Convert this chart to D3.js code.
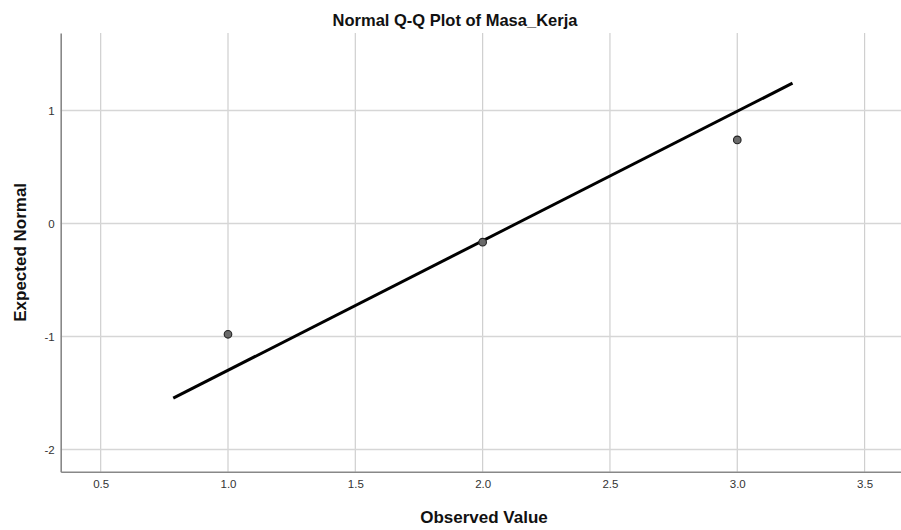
<!DOCTYPE html>
<html><head><meta charset="utf-8">
<script src="https://cdn.jsdelivr.net/npm/d3@7"></script>
<style>body{margin:0;background:#fff;} svg{display:block;font-family:"Liberation Sans",Arial,sans-serif;}</style>
</head><body>
<svg id="c" width="901" height="530"></svg>
<script>
const title = "Normal Q-Q Plot of Masa_Kerja";
const xLabel = "Observed Value";
const yLabel = "Expected Normal";
const observed = [1, 2, 3];
const expected = [-0.98, -0.165, 0.74];
const lineX = [0.785, 3.217];
const lineY = [-1.545, 1.242];
const xTicks = [0.5, 1.0, 1.5, 2.0, 2.5, 3.0, 3.5];
const yTicks = [-2, -1, 0, 1];
const xTickLabels = ["0.5", "1.0", "1.5", "2.0", "2.5", "3.0", "3.5"];
const yTickLabels = ["-2", "-1", "0", "1"];
const xDomain = [0.343, 3.643];
const yDomain = [-2.196, 1.686];

const svg = d3.select("#c");
const L = 60.7, R = 901, T = 33, B = 471.7;
const x = d3.scaleLinear().domain(xDomain).range([L, R]);
const y = d3.scaleLinear().domain(yDomain).range([B, T]);

// gridlines
svg.append("g").selectAll("line").data(xTicks).join("line")
  .attr("x1", d => x(d)).attr("x2", d => x(d)).attr("y1", T).attr("y2", B)
  .attr("stroke", "#cfcfcf").attr("stroke-width", 1.2);
svg.append("g").selectAll("line").data(yTicks).join("line")
  .attr("y1", d => y(d)).attr("y2", d => y(d)).attr("x1", L).attr("x2", R)
  .attr("stroke", "#d6d6d6").attr("stroke-width", 1.6);

// axes
const xAxis = svg.append("g").attr("transform", `translate(0,${B})`)
  .call(d3.axisBottom(x).tickValues(xTicks).tickFormat((d, i) => xTickLabels[i]).tickSize(0).tickPadding(8));
const yAxis = svg.append("g").attr("transform", `translate(${L},0)`)
  .call(d3.axisLeft(y).tickValues(yTicks).tickFormat((d, i) => yTickLabels[i]).tickSize(0).tickPadding(6));
[xAxis, yAxis].forEach(a => {
  a.select(".domain").attr("stroke", "#888").attr("stroke-width", 1.6);
  a.selectAll("text").attr("font-size", 11.5).attr("fill", "#333")
    .attr("font-family", "'Liberation Sans',Arial,sans-serif");
});

// reference line
svg.append("line")
  .attr("x1", x(lineX[0])).attr("y1", y(lineY[0]))
  .attr("x2", x(lineX[1])).attr("y2", y(lineY[1]))
  .attr("stroke", "#000").attr("stroke-width", 3);

// points
svg.append("g").selectAll("circle").data(observed).join("circle")
  .attr("cx", d => x(d)).attr("cy", (d, i) => y(expected[i])).attr("r", 3.8)
  .attr("fill", "#6a6a6a").attr("stroke", "#222").attr("stroke-width", 1.1);

// title and labels
svg.append("text").attr("x", 455).attr("y", 26).attr("text-anchor", "middle")
  .attr("font-size", 16.5).attr("font-weight", "bold").attr("fill", "#111").text(title);
svg.append("text").attr("x", 484).attr("y", 523).attr("text-anchor", "middle")
  .attr("font-size", 17).attr("font-weight", "bold").attr("fill", "#111").text(xLabel);
svg.append("text").attr("transform", `translate(26,${(T + B) / 2}) rotate(-90)`)
  .attr("text-anchor", "middle").attr("font-size", 17).attr("font-weight", "bold")
  .attr("fill", "#111").text(yLabel);
</script>
</body></html>
